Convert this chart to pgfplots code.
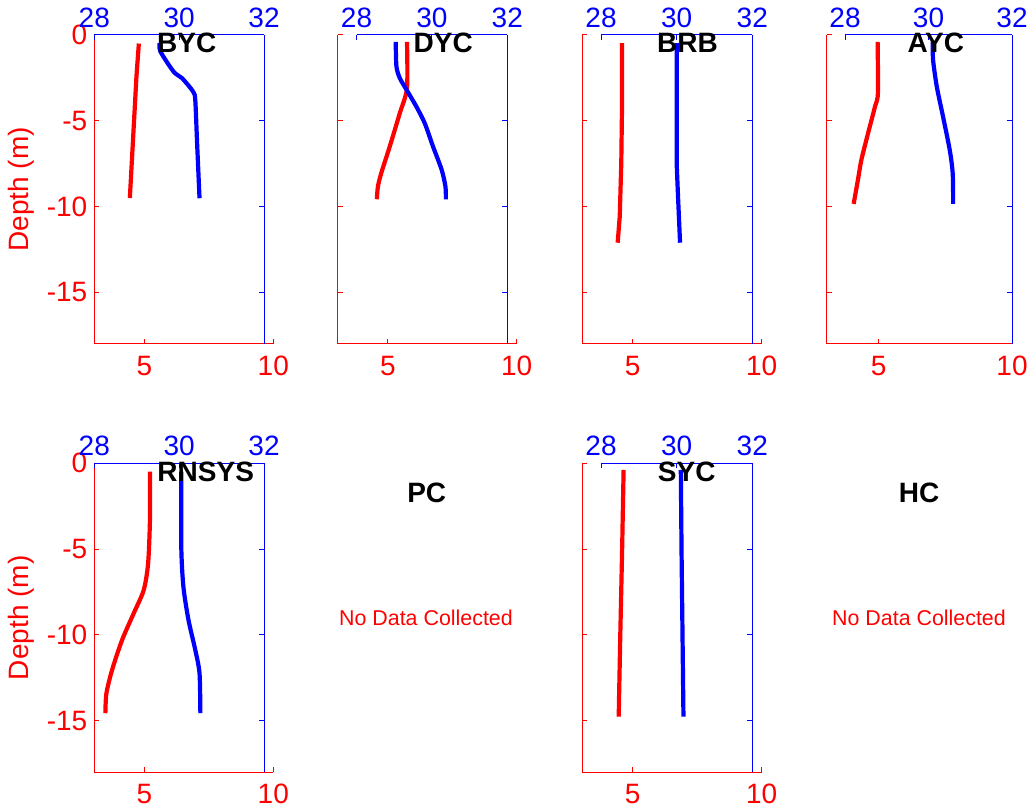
\documentclass[border=0pt]{standalone}
\usepackage{pgfplots}
\pgfplotsset{compat=1.18}
\usepackage{fontspec}
\setmainfont{Liberation Sans}
\newcommand\tf{\fontsize{14}{16}\selectfont}
\pgfplotsset{
  redax/.style={scale only axis, anchor=south west, height=154.5pt,
    xmin=3.05, xmax=10, ymin=-18, ymax=0,
    axis x line*=bottom, axis y line*=left,
    axis line style={red, line width=0.5pt, -},
    xtick={5,10}, xticklabels={5,10},
    ytick={-15,-10,-5,0}, yticklabels={-15,-10,-5,0},
    tick align=inside, major tick length=2.5pt,
    tick style={red, line width=0.5pt},
    ticklabel style={red, font=\tf},
    xticklabel style={yshift=-2.5pt},
    clip=false,
  },
  blueax/.style={scale only axis, anchor=south west, height=154.5pt,
    xmin=28, xmax=32, ymin=-18, ymax=0,
    axis x line*=top, axis y line*=right,
    axis line style={blue, line width=0.5pt, -},
    xtick={28,30,32}, xticklabels={28,30,32},
    ytick={-15,-10,-5}, yticklabels={},
    tick align=inside, major tick length=2.5pt,
    tick style={blue, line width=0.5pt},
    ticklabel style={blue, font=\tf},
    clip=false,
  },
  rl/.style={red, line width=2.1pt, no marks, line join=round},
  bl/.style={blue, line width=2.1pt, no marks, line join=round},
  sm/.style={smooth, tension=0.45},
  dlabel/.style={ylabel={Depth (m)}, ylabel style={red, font=\tf, at={(axis description cs:-0.4056,0.5)}, anchor=center}},
}
\begin{document}
\begin{tikzpicture}
\useasboundingbox (0,0) rectangle (514pt,406pt);
% ---------- BYC
\begin{axis}[redax, dlabel, at={(47.15pt,234pt)}, width=89.5pt]
\addplot[rl] coordinates {(4.78,-0.5) (4.69,-2.33) (4.43,-9.5)};
\end{axis}
\begin{axis}[blueax, at={(47.15pt,234pt)}, width=84.85pt]
\addplot[bl, sm] coordinates {(29.54,-0.48) (29.56,-0.97) (29.87,-2.14) (30.07,-2.52) (30.33,-3.30) (30.38,-3.79) (30.42,-6.12) (30.48,-9.51)};
\end{axis}
% ---------- DYC
\begin{axis}[redax, yticklabels={}, at={(168.85pt,234pt)}, width=89.5pt]
\addplot[rl, sm] coordinates {(5.74,-0.4) (5.74,-3.1) (5.46,-4.56) (5.07,-6.5) (4.74,-8.05) (4.61,-8.84) (4.57,-9.57)};
\end{axis}
\begin{axis}[blueax, at={(178.25pt,234pt)}, width=75.4pt]
\addplot[bl, sm] coordinates {(29.04,-0.4) (29.06,-1.85) (29.15,-2.52) (29.33,-3.2) (29.59,-4.18) (29.81,-5.14) (30.03,-6.5) (30.26,-7.86) (30.36,-8.84) (30.37,-9.57)};
\end{axis}
% ---------- BRB
\begin{axis}[redax, yticklabels={}, at={(291.15pt,234pt)}, width=89.7pt]
\addplot[rl] coordinates {(4.59,-0.48) (4.59,-3.98) (4.56,-7.47) (4.50,-10.58) (4.42,-12.1)};
\end{axis}
\begin{axis}[blueax, at={(300.5pt,234pt)}, width=75.65pt]
\addplot[bl] coordinates {(30.0,-0.48) (30.0,-3.98) (30.0,-7.47) (30.04,-9.6) (30.09,-12.1)};
\end{axis}
% ---------- AYC
\begin{axis}[redax, yticklabels={}, at={(413.35pt,234pt)}, width=92.65pt]
\addplot[rl, sm] coordinates {(4.96,-0.4) (4.97,-3.4) (4.86,-4.18) (4.6,-5.73) (4.35,-7.28) (4.22,-8.45) (4.06,-9.84)};
\end{axis}
\begin{axis}[blueax, at={(422.5pt,234pt)}, width=83.5pt]
\addplot[bl, sm] coordinates {(30.10,-0.4) (30.11,-1.47) (30.20,-3.03) (30.35,-4.78) (30.51,-6.72) (30.58,-8.08) (30.59,-9.84)};
\end{axis}
% ---------- RNSYS
\begin{axis}[redax, dlabel, at={(47.15pt,19.85pt)}, width=89.5pt]
\addplot[rl, sm] coordinates {(5.21,-0.49) (5.21,-3.3) (5.14,-5.82) (4.97,-7.38) (4.58,-8.74) (4.13,-10.29) (3.74,-12.04) (3.52,-13.4) (3.48,-14.56)};
\end{axis}
\begin{axis}[blueax, at={(47.15pt,19.85pt)}, width=84.85pt]
\addplot[bl, sm] coordinates {(30.05,-0.49) (30.05,-4.86) (30.10,-7.19) (30.22,-9.13) (30.38,-10.87) (30.48,-12.23) (30.50,-14.56)};
\end{axis}
% ---------- SYC
\begin{axis}[redax, yticklabels={}, at={(291.15pt,19.85pt)}, width=89.7pt]
\addplot[rl] coordinates {(4.65,-0.39) (4.59,-5.24) (4.52,-10.1) (4.46,-14.76)};
\end{axis}
\begin{axis}[blueax, at={(300.5pt,19.85pt)}, width=75.65pt]
\addplot[bl] coordinates {(30.11,-0.39) (30.13,-5.24) (30.18,-14.76)};
\end{axis}
% ---------- titles
\begin{scope}[every node/.style={font=\tf\bfseries, anchor=center, inner sep=0pt}]
\node at (93.35pt,384.5pt) {BYC};
\node at (221.65pt,384.5pt) {DYC};
\node at (343.75pt,384.5pt) {BRB};
\node at (467.9pt,384.5pt) {AYC};
\node at (102.85pt,170pt) {RNSYS};
\node at (343.35pt,170pt) {SYC};
\node at (213.35pt,159.35pt) {PC};
\node at (459.5pt,159.35pt) {HC};
\end{scope}
\node[red, font=\fontsize{10.7}{12}\selectfont, inner sep=0pt] at (213pt,97.15pt) {No Data Collected};
\node[red, font=\fontsize{10.7}{12}\selectfont, inner sep=0pt] at (459.5pt,97.15pt) {No Data Collected};
\end{tikzpicture}
\end{document}
